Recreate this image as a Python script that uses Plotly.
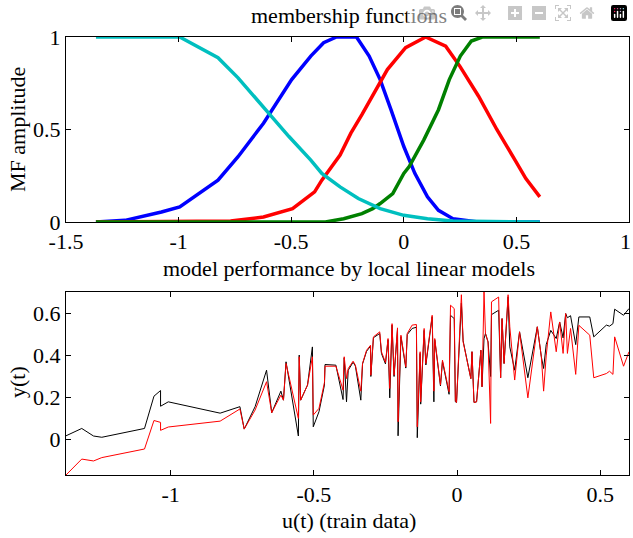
import plotly.graph_objects as go

# membership functions (top panel)
blue_x = [-1.367, -1.238, -1.076, -0.995, -0.825, -0.736, -0.623, -0.498, -0.413, -0.356,
          -0.299, -0.21, -0.154, -0.105, -0.057, 0.0, 0.049, 0.105, 0.154, 0.218, 0.33, 0.604]
blue_y = [0.0, 0.009, 0.054, 0.082, 0.226, 0.353, 0.534, 0.77, 0.897, 0.969,
          1.0, 1.0, 0.897, 0.77, 0.607, 0.408, 0.263, 0.136, 0.063, 0.018, 0.0, 0.0]

red_x = [-1.367, -0.769, -0.623, -0.494, -0.396, -0.364, -0.283, -0.235, -0.186, -0.121,
         -0.073, 0.008, 0.097, 0.186, 0.25, 0.332, 0.413, 0.494, 0.542, 0.604]
red_y = [0.0, 0.005, 0.027, 0.072, 0.163, 0.226, 0.362, 0.48, 0.58, 0.725,
         0.824, 0.942, 1.0, 0.95, 0.84, 0.68, 0.5, 0.335, 0.235, 0.136]

green_x = [-1.367, -0.348, -0.267, -0.186, -0.138, -0.105, -0.049, 0.0, 0.024, 0.089,
           0.154, 0.202, 0.251, 0.3, 0.348, 0.604]
green_y = [0.0, 0.0, 0.018, 0.045, 0.072, 0.1, 0.154, 0.263, 0.3, 0.444,
           0.607, 0.77, 0.897, 0.978, 1.0, 1.0]

cyan_x = [-1.367, -0.995, -0.825, -0.736, -0.607, -0.51, -0.413, -0.364, -0.283, -0.202,
          -0.105, 0.0, 0.105, 0.218, 0.604]
cyan_y = [1.0, 1.0, 0.888, 0.779, 0.598, 0.462, 0.335, 0.263, 0.19, 0.127,
          0.072, 0.036, 0.018, 0.005, 0.0]

mf_ticks = [-1.5, -1, -0.5, 0, 0.5, 1]
mf_ticktext = ["-1.5", "-1", "-0.5", "0", "0.5", "1"]

# train data (bottom panel)
u = [-1.365, -1.310, -1.269, -1.240, -1.091, -1.058, -1.035, -1.035, -1.008, -0.827,
     -0.758, -0.743, -0.705, -0.665, -0.647, -0.615, -0.606, -0.597, -0.554, -0.551,
     -0.546, -0.522, -0.505, -0.502, -0.482, -0.463, -0.461, -0.423, -0.398, -0.394,
     -0.386, -0.380, -0.363, -0.355, -0.336, -0.330, -0.316, -0.302, -0.301, -0.292,
     -0.270, -0.264, -0.250, -0.241, -0.235, -0.227, -0.220, -0.208, -0.206, -0.196,
     -0.179, -0.174, -0.157, -0.142, -0.139, -0.129, -0.127, -0.115, -0.109, -0.087,
     -0.081, -0.078, -0.058, -0.051, -0.028, -0.023, -0.010, -0.006, -0.002, 0.015,
     0.021, 0.048, 0.052, 0.059, 0.068, 0.083, 0.087, 0.094, 0.099, 0.108,
     0.117, 0.120, 0.145, 0.152, 0.157, 0.164, 0.178, 0.184, 0.201, 0.218,
     0.247, 0.280, 0.294, 0.302, 0.311, 0.327, 0.346, 0.358, 0.370, 0.379,
     0.385, 0.396, 0.414, 0.425, 0.463, 0.477, 0.521, 0.532, 0.544, 0.550,
     0.581, 0.600]
y_train = [0.017, 0.052, 0.016, 0.010, 0.052, 0.206, 0.233, 0.158, 0.179, 0.125,
           0.156, 0.049, 0.156, 0.330, 0.127, 0.230, 0.187, 0.370, 0.016, 0.402,
           0.187, 0.259, 0.441, 0.060, 0.132, 0.259, 0.357, 0.354, 0.190, 0.389,
           0.179, 0.330, 0.368, 0.350, 0.187, 0.360, 0.420, 0.445, 0.300, 0.485,
           0.505, 0.410, 0.360, 0.475, 0.198, 0.545, 0.300, 0.525, 0.017, 0.490,
           0.340, 0.500, 0.529, 0.535, 0.008, 0.410, 0.168, 0.520, 0.355, 0.585,
           0.179, 0.475, 0.255, 0.372, 0.215, 0.592, 0.576, 0.179, 0.176, 0.650,
           0.470, 0.290, 0.418, 0.176, 0.179, 0.425, 0.251, 0.480, 0.505, 0.465,
           0.300, 0.595, 0.616, 0.294, 0.576, 0.362, 0.680, 0.441, 0.330, 0.513,
           0.294, 0.537, 0.394, 0.338, 0.452, 0.520, 0.481, 0.560, 0.484, 0.600,
           0.580, 0.590, 0.452, 0.584, 0.584, 0.489, 0.545, 0.540, 0.552, 0.621,
           0.592, 0.624]
y_model = [-0.170, -0.094, -0.103, -0.087, -0.046, 0.090, 0.081, 0.043, 0.059, 0.087,
           0.145, 0.049, 0.140, 0.275, 0.127, 0.211, 0.187, 0.362, 0.100, 0.394,
           0.187, 0.259, 0.394, 0.116, 0.148, 0.271, 0.349, 0.349, 0.235, 0.394,
           0.290, 0.338, 0.373, 0.354, 0.230, 0.362, 0.425, 0.449, 0.306, 0.489,
           0.513, 0.418, 0.367, 0.481, 0.243, 0.552, 0.306, 0.532, 0.084, 0.497,
           0.346, 0.505, 0.545, 0.548, 0.060, 0.418, 0.179, 0.529, 0.362, 0.592,
           0.230, 0.481, 0.259, 0.378, 0.227, 0.640, 0.624, 0.185, 0.176, 0.690,
           0.465, 0.290, 0.418, 0.176, 0.179, 0.425, 0.251, 0.703, 0.505, 0.465,
           0.076, 0.656, 0.679, 0.294, 0.576, 0.362, 0.690, 0.537, 0.283, 0.513,
           0.198, 0.537, 0.394, 0.230, 0.398, 0.608, 0.418, 0.560, 0.410, 0.600,
           0.410, 0.529, 0.310, 0.544, 0.497, 0.294, 0.314, 0.325, 0.310, 0.489,
           0.349, 0.418]

serif = "Liberation Serif"
fs = 22
W, H = 633, 538


def px_x(p):
    return p / W


def px_y(p):
    return 1 - p / H


fig = go.Figure()

# membership functions
for xs, ys, col in [(blue_x, blue_y, "#0000ff"), (red_x, red_y, "#ff0000"),
                    (green_x, green_y, "#008000"), (cyan_x, cyan_y, "#00bfbf")]:
    fig.add_trace(go.Scatter(x=xs, y=ys, mode="lines", line=dict(color=col, width=3.5),
                             xaxis="x", yaxis="y"))

# train output vs. local linear model output
fig.add_trace(go.Scatter(x=u, y=y_train, mode="lines", line=dict(color="black", width=1),
                         xaxis="x2", yaxis="y2"))
fig.add_trace(go.Scatter(x=u, y=y_model, mode="lines", line=dict(color="#ff0000", width=1),
                         xaxis="x2", yaxis="y2"))

axis_style = dict(showgrid=False, zeroline=False, showline=True, linecolor="black", linewidth=1,
                  mirror="allticks", ticks="inside", ticklen=5, tickcolor="black",
                  automargin=False, ticklabeloverflow="allow",
                  tickfont=dict(family=serif, size=fs, color="black"))

font = dict(family=serif, size=fs, color="black")
ann = dict(xref="paper", yref="paper", showarrow=False, xanchor="center", yanchor="middle", font=font)

# last top tick label sits on the right edge of the page; written as text so it stays visible
last_tick = dict(text=mf_ticktext[-1], x=1, xref="paper", y=px_y(241), yref="paper",
                 showarrow=False, xanchor="right", yanchor="middle", font=font)

fig.update_layout(
    width=W, height=H,
    margin=dict(l=0, r=0, t=0, b=0),
    paper_bgcolor="white", plot_bgcolor="white",
    showlegend=False,
    xaxis=dict(domain=[px_x(66), px_x(629)], range=[-1.5, 1], tickvals=mf_ticks,
               ticktext=mf_ticktext[:-1] + [""], anchor="y", **axis_style),
    yaxis=dict(domain=[px_y(222), px_y(37)], range=[0, 1], tickvals=[0, 0.5, 1],
               ticktext=["0", "0.5", "1"], anchor="x", **axis_style),
    xaxis2=dict(domain=[px_x(66), px_x(629)], range=[-1.365, 0.6], tickvals=[-1, -0.5, 0, 0.5],
                ticktext=["-1", "-0.5", "0", "0.5"], anchor="y2", **axis_style),
    yaxis2=dict(domain=[px_y(475), px_y(292)], range=[-0.17, 0.703], tickvals=[0, 0.2, 0.4, 0.6],
                ticktext=["0", "0.2", "0.4", "0.6"], anchor="x2", **axis_style),
    annotations=[
        dict(text="membership functions", x=px_x(349), y=px_y(15), **ann),
        dict(text="model performance by local linear models", x=px_x(349), y=px_y(268), **ann),
        dict(text="u(t) (train data)", x=px_x(349), y=px_y(520), **ann),
        dict(text="MF amplitude", x=px_x(17), y=px_y(130), textangle=-90, **ann),
        dict(text="y(t)", x=px_x(17), y=px_y(382), textangle=-90, **ann),
        last_tick,
    ],
)

# drop the default 8px body margin so the 633x538 figure fills the window exactly
fig.write_html("out.html", post_script="document.body.style.margin = '0';")
